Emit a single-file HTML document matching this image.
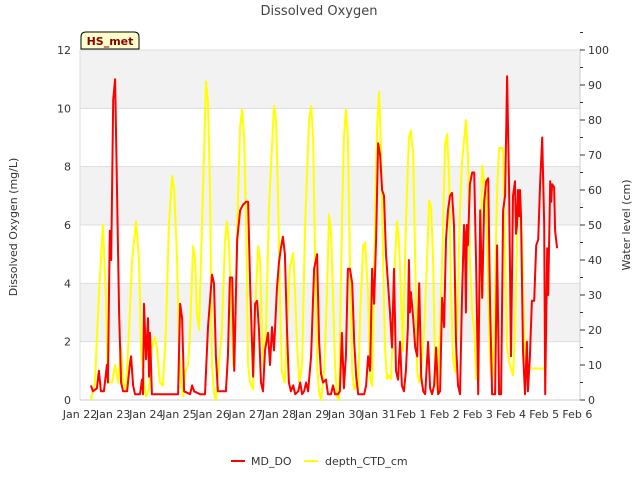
<!DOCTYPE html>
<html><head><meta charset="utf-8"><style>
body{margin:0;background:#fff;font-family:"Liberation Sans","DejaVu Sans",sans-serif;}
</style></head><body>
<svg width="640" height="480" xmlns="http://www.w3.org/2000/svg" font-family="DejaVu Sans, Liberation Sans, sans-serif">
<g id="bands"></g>
<g id="axes"></g>
<g id="series"></g>
<text x="319" y="15" text-anchor="middle" font-size="13" fill="#444">Dissolved Oxygen</text>
<text x="17" y="227" text-anchor="middle" font-size="11" fill="#333" transform="rotate(-90 17 227)">Dissolved Oxygen (mg/L)</text>
<text x="630" y="225" text-anchor="middle" font-size="11" fill="#333" transform="rotate(-90 630 225)">Water level (cm)</text>
<g>
<path d="M81,49 L81,37 Q81,32 86,32 L134,32 Q139,32 139,37 L139,49 Z" fill="#ffffcc" stroke="#000" stroke-width="1"/>
<text x="110" y="45" text-anchor="middle" font-size="11" font-weight="bold" fill="#8b0000">HS_met</text>
</g>
<g>
<g><line x1="231" y1="461" x2="245" y2="461" stroke="#ff0000" stroke-width="2"/><text x="251" y="465" font-size="11" fill="#333">MD_DO</text></g>
<g><line x1="304" y1="461" x2="318" y2="461" stroke="#ffff00" stroke-width="2"/><text x="325" y="465" font-size="11" fill="#333">depth_CTD_cm</text></g>
</g>
</svg>
<script>
const xTickLabels=["Jan 22","Jan 23","Jan 24","Jan 25","Jan 26","Jan 27","Jan 28","Jan 29","Jan 30","Jan 31","Feb 1","Feb 2","Feb 3","Feb 4","Feb 5","Feb 6"];
const leftTicks=[0,2,4,6,8,10,12];
const rightTicks=[0,10,20,30,40,50,60,70,80,90,100];
const doTimes=[0.33,0.39,0.51,0.57,0.63,0.72,0.81,0.84,0.90,0.94,1.00,1.06,1.12,1.18,1.24,1.30,1.42,1.51,1.54,1.60,1.66,1.81,1.87,1.90,1.93,1.99,2.05,2.08,2.11,2.17,2.41,2.56,2.71,2.96,3.02,3.08,3.14,3.32,3.38,3.44,3.62,3.77,3.86,3.98,4.04,4.10,4.16,4.28,4.40,4.46,4.52,4.59,4.65,4.74,4.83,4.92,5.01,5.07,5.13,5.22,5.28,5.34,5.40,5.46,5.52,5.58,5.67,5.73,5.79,5.85,5.94,6.00,6.06,6.12,6.18,6.24,6.30,6.36,6.43,6.49,6.58,6.64,6.70,6.76,6.82,6.88,6.97,7.06,7.15,7.21,7.27,7.33,7.42,7.48,7.57,7.63,7.69,7.78,7.84,7.90,7.96,8.02,8.08,8.14,8.21,8.27,8.33,8.39,8.48,8.57,8.63,8.69,8.75,8.81,8.87,8.93,8.99,9.05,9.11,9.17,9.23,9.29,9.35,9.41,9.47,9.53,9.59,9.65,9.71,9.77,9.83,9.89,9.92,9.95,9.98,10.02,10.05,10.11,10.17,10.23,10.29,10.35,10.41,10.50,10.56,10.62,10.68,10.74,10.80,10.86,10.92,10.98,11.04,11.10,11.16,11.22,11.28,11.34,11.40,11.46,11.52,11.58,11.61,11.64,11.67,11.70,11.76,11.83,11.89,11.95,12.01,12.07,12.13,12.19,12.25,12.31,12.37,12.43,12.52,12.58,12.64,12.70,12.76,12.82,12.88,12.94,13.00,13.06,13.12,13.15,13.18,13.21,13.24,13.27,13.30,13.36,13.42,13.48,13.51,13.57,13.63,13.70,13.76,13.82,13.88,13.94,14.00,14.03,14.09,14.12,14.18,14.21,14.24,14.30,14.33,14.39];
const doValues=[0.5,0.3,0.4,1.0,0.3,0.3,1.2,0.6,5.8,4.8,10.3,11.0,7,3,0.6,0.3,0.3,1.3,1.5,0.5,0.2,0.2,0.7,0.2,3.3,1.4,2.8,0.8,2.3,0.2,0.2,0.2,0.2,0.2,3.3,2.8,0.3,0.2,0.5,0.3,0.2,0.2,2.5,4.3,4.0,1.5,0.3,0.3,0.3,1.5,4.2,4.2,1.0,5.5,6.5,6.7,6.8,6.8,4.0,0.8,3.3,3.4,2.4,0.6,0.3,1.7,2.3,1.2,2.5,1.7,3.8,4.7,5.2,5.6,5.0,2.5,0.6,0.3,0.5,0.2,0.3,0.6,0.2,0.3,0.6,0.3,1.5,4.5,5.0,2.0,0.9,0.6,0.7,0.2,0.2,0.5,0.2,0.2,0.3,2.3,0.4,1.5,4.5,4.5,4.0,2.0,0.8,0.2,0.2,0.2,0.5,1.5,1.0,4.5,3.3,5.5,8.8,8.4,7.2,7.0,5.0,4.0,3.0,1.8,4.5,1.0,0.7,2.0,0.5,0.3,1.0,2.5,4.8,3.0,3.7,3.2,2.8,1.8,1.5,4.0,0.8,0.3,0.2,2.0,0.4,0.2,0.5,1.8,0.2,0.3,3.5,2.5,5.5,6.5,7.0,7.1,6.0,2.0,0.5,0.2,3.5,6.0,5.7,3.0,6.0,5.3,7.4,7.8,7.8,4.5,0.2,6.5,3.5,6.8,7.5,7.6,3.2,0.2,0.2,5.3,0.2,0.2,6.5,7.0,11.1,7.5,1.5,7.0,7.5,5.7,6.0,7.2,6.3,7.2,6.3,1.7,0.2,2.0,0.3,1.5,3.4,3.4,5.3,5.5,7.5,9.0,6.0,0.2,5.2,3.6,7.5,6.8,7.4,7.3,5.8,5.2];
const depthTimes=[0.33,0.45,0.57,0.69,0.78,0.84,0.97,1.06,1.15,1.24,1.30,1.39,1.48,1.57,1.69,1.78,1.84,1.93,1.99,2.08,2.17,2.26,2.32,2.41,2.50,2.59,2.68,2.78,2.84,2.93,2.99,3.05,3.11,3.17,3.26,3.32,3.41,3.47,3.53,3.59,3.65,3.74,3.80,3.86,3.92,3.98,4.04,4.10,4.19,4.28,4.37,4.43,4.49,4.55,4.62,4.68,4.74,4.83,4.89,4.95,5.01,5.07,5.13,5.22,5.28,5.37,5.43,5.49,5.55,5.61,5.70,5.85,5.91,5.97,6.03,6.09,6.18,6.24,6.33,6.43,6.49,6.55,6.61,6.70,6.79,6.91,6.97,7.03,7.09,7.15,7.21,7.27,7.36,7.45,7.51,7.57,7.63,7.69,7.75,7.81,7.90,7.96,8.02,8.08,8.14,8.21,8.27,8.33,8.39,8.45,8.54,8.60,8.69,8.75,8.81,8.87,8.96,9.02,9.08,9.14,9.20,9.26,9.32,9.38,9.44,9.50,9.56,9.62,9.68,9.74,9.83,9.92,9.98,10.05,10.11,10.17,10.23,10.29,10.38,10.47,10.53,10.59,10.65,10.71,10.77,10.86,10.95,11.01,11.07,11.13,11.19,11.25,11.31,11.37,11.46,11.52,11.58,11.64,11.70,11.76,11.83,11.89,11.95,12.01,12.07,12.13,12.19,12.25,12.31,12.37,12.43,12.49,12.58,12.64,12.70,12.76,12.82,12.88,12.94,13.00,13.06,13.12,13.18,13.21,13.27,13.33,13.39,13.45,13.57,13.73,13.88,14.03];
const depthValues=[0,5,30,50,30,5,5,10,5,15,5,3,20,40,51,40,15,5,1,3,15,18,15,5,4,20,50,64,60,40,15,5,1,8,10,20,44,40,25,20,40,70,91,85,60,10,2,0,10,20,45,51,45,30,10,20,50,78,83,75,50,10,5,3,25,44,40,20,8,20,55,84,80,60,30,8,5,20,38,42,30,15,5,10,50,80,84,75,40,10,2,0,8,30,53,48,30,10,1,0,50,75,83,75,40,8,3,5,3,25,44,45,30,6,4,38,78,88,70,40,15,6,7,6,20,40,51,45,30,14,50,75,77,70,40,8,5,8,20,40,57,55,40,10,3,20,50,73,76,65,30,12,8,20,55,68,74,80,70,40,25,20,6,8,40,67,62,60,30,12,5,20,60,72,72,72,40,15,11,9,7,20,45,55,60,45,20,9,9,9,9,9];

const X0=80,X1=580,Y0=400,Y1=50,DAYS=15.08;
const xs=d=>X0+d*(X1-X0)/DAYS;
const yL=v=>Y0-v*(Y0-Y1)/12;
const yR=v=>Y0-v*(Y0-Y1)/100;
const NS="http://www.w3.org/2000/svg";
function mk(tag,attrs,parent){const e=document.createElementNS(NS,tag);for(const k in attrs)e.setAttribute(k,attrs[k]);parent.appendChild(e);return e;}
const bands=document.getElementById('bands'),axes=document.getElementById('axes'),series=document.getElementById('series');
for(let i=0;i<leftTicks.length-1;i++){
  const r=mk('rect',{x:X0,y:yL(leftTicks[i+1]),width:X1-X0,height:yL(leftTicks[i])-yL(leftTicks[i+1]),fill:(i%2===1)?'#f2f2f2':'#ffffff'},bands);
  
  
}
leftTicks.forEach(v=>{
  const g=mk('line',{x1:X0,x2:X1,y1:yL(v),y2:yL(v),stroke:'#dddddd','stroke-width':1},bands);
  
  
  const t=mk('text',{x:X0-9,y:yL(v)+4,'text-anchor':'end','font-size':11,fill:'#333'},axes);
  t.textContent=v;
  
  
});
mk('line',{x1:X1,x2:X1,y1:Y1,y2:Y0,stroke:'#ccc'},axes);
mk('line',{x1:X0,x2:X0,y1:Y1,y2:Y0,stroke:'#ddd'},axes);
mk('line',{x1:X0,x2:X1,y1:Y0,y2:Y0,stroke:'#ccc'},axes);
rightTicks.forEach(v=>{
  mk('line',{x1:X1,x2:X1+5,y1:yR(v),y2:yR(v),stroke:'#333'},axes);
  mk('line',{x1:X1,x2:X1+3,y1:yR(v+5),y2:yR(v+5),stroke:'#333'},axes);
  const t=mk('text',{x:X1+8,y:yR(v)+4,'font-size':11,fill:'#333'},axes);
  t.textContent=v;
  
  
});
xTickLabels.forEach((lab,i)=>{
  const t=mk('text',{x:xs(i),y:Y0+18,'text-anchor':'middle','font-size':11,fill:'#333'},axes);
  t.textContent=lab;
  
  
});
const dp=mk('polyline',{points:depthTimes.map((t,i)=>xs(t).toFixed(1)+','+yR(depthValues[i]).toFixed(1)).join(' '),fill:'none',stroke:'#ffff00','stroke-width':2,'stroke-linejoin':'round'},series);


const rp=mk('polyline',{points:doTimes.map((t,i)=>xs(t).toFixed(1)+','+yL(doValues[i]).toFixed(1)).join(' '),fill:'none',stroke:'#ff0000','stroke-width':2,'stroke-linejoin':'round'},series);


</script>
</body></html>
